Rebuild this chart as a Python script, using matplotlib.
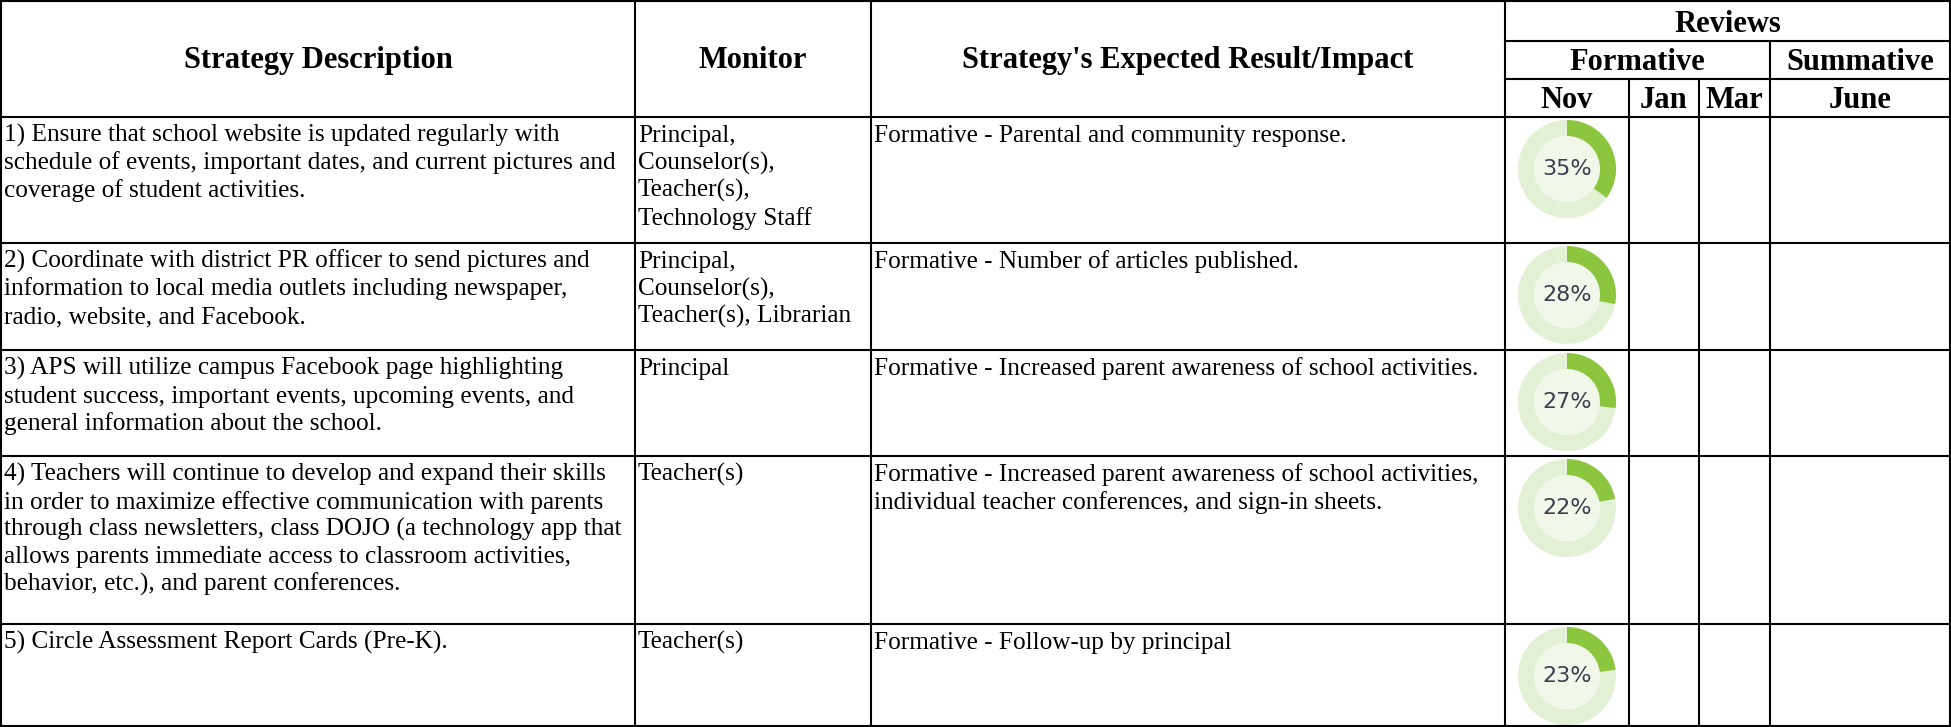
import matplotlib
matplotlib.use("Agg")
from matplotlib import pyplot as plt
from matplotlib.patches import Wedge, Circle

# table content
descriptions = [
    ["1) Ensure that school website is updated regularly with",
     "schedule of events, important dates, and current pictures and",
     "coverage of student activities."],
    ["2) Coordinate with district PR officer to send pictures and",
     "information to local media outlets including newspaper,",
     "radio, website, and Facebook."],
    ["3) APS will utilize campus Facebook page highlighting",
     "student success, important events, upcoming events, and",
     "general information about the school."],
    ["4) Teachers will continue to develop and expand their skills",
     "in order to maximize effective communication with parents",
     "through class newsletters, class DOJO (a technology app that",
     "allows parents immediate access to classroom activities,",
     "behavior, etc.), and parent conferences."],
    ["5) Circle Assessment Report Cards (Pre-K)."],
]
monitors = [
    ["Principal,", "Counselor(s),", "Teacher(s),", "Technology Staff"],
    ["Principal,", "Counselor(s),", "Teacher(s), Librarian"],
    ["Principal"],
    ["Teacher(s)"],
    ["Teacher(s)"],
]
impacts = [
    ["Formative - Parental and community response."],
    ["Formative - Number of articles published."],
    ["Formative - Increased parent awareness of school activities."],
    ["Formative - Increased parent awareness of school activities,",
     "individual teacher conferences, and sign-in sheets."],
    ["Formative - Follow-up by principal"],
]
nov_pct = [35, 28, 27, 22, 23]

# layout (pixels)
W, H = 1951, 727
cols = [1, 635, 871, 1505, 1629, 1699, 1770, 1950]
rows = [117, 243, 350, 456, 624, 726]
top = 1

fig = plt.figure(figsize=(W / 100, H / 100), dpi=100)
ax = fig.add_axes([0, 0, 1, 1])
ax.set_xlim(0, W)
ax.set_ylim(H, 0)
ax.axis("off")

lw = 1.5
kw = dict(color="black", lw=lw, solid_capstyle="projecting")
# outer border and row lines
ax.plot([cols[0], cols[-1]], [top, top], **kw)
for y in rows:
    ax.plot([cols[0], cols[-1]], [y, y], **kw)
ax.plot([cols[3], cols[-1]], [41, 41], **kw)
ax.plot([cols[3], cols[-1]], [79, 79], **kw)
for x in [cols[0], cols[1], cols[2], cols[3], cols[-1]]:
    ax.plot([x, x], [top, rows[-1]], **kw)
ax.plot([cols[6], cols[6]], [41, rows[-1]], **kw)
for x in [cols[4], cols[5]]:
    ax.plot([x, x], [79, rows[-1]], **kw)

serif = "Liberation Serif"
hkw = dict(family=serif, fontweight="bold", fontsize=22, ha="center", va="baseline")
ax.text((cols[0] + cols[1]) / 2, 68, "Strategy Description", **hkw)
ax.text((cols[1] + cols[2]) / 2, 68, "Monitor", **hkw)
ax.text((cols[2] + cols[3]) / 2, 68, "Strategy's Expected Result/Impact", **hkw)
ax.text((cols[3] + cols[-1]) / 2, 32, "Reviews", **hkw)
ax.text((cols[3] + cols[6]) / 2, 70, "Formative", **hkw)
ax.text((cols[6] + cols[-1]) / 2, 70, "Summative", **hkw)
for lab, a, b in [("Nov", 3, 4), ("Jan", 4, 5), ("Mar", 5, 6), ("June", 6, 7)]:
    ax.text((cols[a] + cols[b]) / 2, 108, lab, **hkw)

bkw = dict(family=serif, fontsize=18.2, ha="left", va="baseline")
pitch = 27.5
for i in range(5):
    y0 = rows[i] + 25
    for j, line in enumerate(descriptions[i]):
        ax.text(cols[0] + 3, y0 + j * pitch, line, **bkw)
    for j, line in enumerate(monitors[i]):
        ax.text(cols[1] + 3, y0 + j * pitch, line, **bkw)
    for j, line in enumerate(impacts[i]):
        ax.text(cols[2] + 3, y0 + j * pitch, line, **bkw)

    # donut in the Nov column
    cx = (cols[3] + cols[4]) / 2
    cy = rows[i] + 52
    r_out, ring = 49, 16
    ax.add_patch(Wedge((cx, cy), r_out, 0, 360, width=ring, facecolor="#E2F0D4", edgecolor="none"))
    ax.add_patch(Circle((cx, cy), r_out - ring, facecolor="#F1F8EA", edgecolor="none"))
    ax.add_patch(Wedge((cx, cy), r_out, 270, 270 + nov_pct[i] * 3.6, width=ring,
                       facecolor="#8CC63F", edgecolor="none"))
    ax.text(cx, cy, f"{nov_pct[i]}%", family="DejaVu Sans", fontsize=16,
            color="#3d3d4f", ha="center", va="center")

fig.savefig("out.png", dpi=100, facecolor="white")
